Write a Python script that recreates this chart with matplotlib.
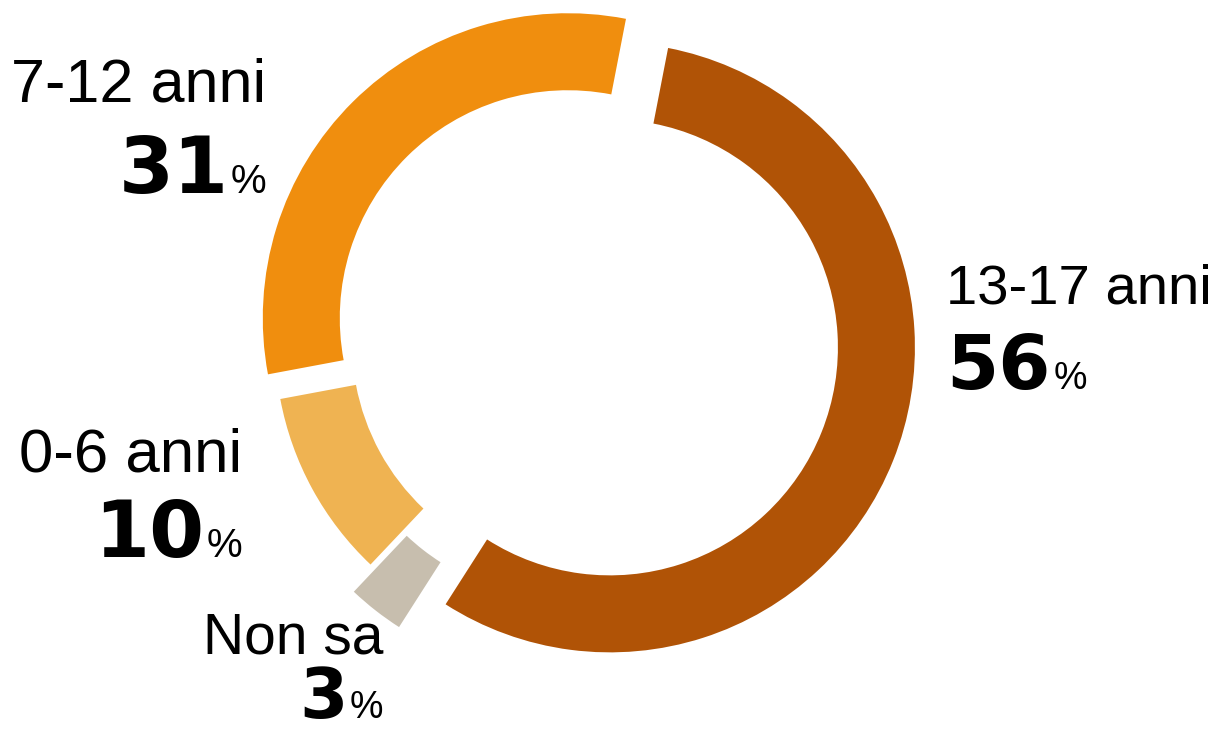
import matplotlib
matplotlib.use("Agg")
import matplotlib.pyplot as plt

# ---- data ----
categories = ["13-17 anni", "Non sa", "0-6 anni", "7-12 anni"]
values = [56, 3, 10, 31]
colors = ["#B05306", "#C7BEAE", "#EFB352", "#F08E0E"]
explode_px = [23.6, 40, 9, 28.7]

W, H = 1216, 734
fig = plt.figure(figsize=(W / 100, H / 100), dpi=100)
ax = fig.add_axes([0, 0, 1, 1])

R = 305
ax.pie(values, colors=colors, startangle=79, counterclock=False,
       radius=R, center=(588, H - 338.6), explode=explode_px,
       wedgeprops=dict(width=77, linewidth=0))
ax.set_xlim(0, W)
ax.set_ylim(0, H)
ax.set_aspect("equal")
ax.axis("off")

renderer = fig.canvas.get_renderer()
LABEL_FONT = "Liberation Sans"
NUM_FONT = "DejaVu Sans"

# label layout: (anchor x, label baseline y, label size, number baseline y,
#                number size, percent size, align)
layout = {
    "7-12 anni": (266, 102, 44, 193, 57, 29, "right"),
    "13-17 anni": (946, 303, 40.5, 389, 54, 27, "left"),
    "0-6 anni": (242, 472, 44.5, 557, 57, 29, "right"),
    "Non sa": (383, 653, 41, 718, 50, 27, "right"),
}

for cat, val in zip(categories, values):
    x, ly, lsz, ny, nsz, psz, align = layout[cat]
    ax.text(x, H - ly, cat, ha=align, va="baseline", fontsize=lsz,
            family=LABEL_FONT, color="black")
    if align == "left":
        t = ax.text(x, H - ny, str(val), ha="left", va="baseline",
                    fontsize=nsz, family=NUM_FONT, weight="bold", color="black")
        bb = t.get_window_extent(renderer)
        ax.text(bb.x1 + 3, H - ny, "%", ha="left", va="baseline",
                fontsize=psz, family=LABEL_FONT, color="black")
    else:
        p = ax.text(x, H - ny, "%", ha="right", va="baseline",
                    fontsize=psz, family=LABEL_FONT, color="black")
        bb = p.get_window_extent(renderer)
        ax.text(bb.x0 - 2, H - ny, str(val), ha="right", va="baseline",
                fontsize=nsz, family=NUM_FONT, weight="bold", color="black")

fig.savefig("out.png", dpi=100, facecolor="white")
